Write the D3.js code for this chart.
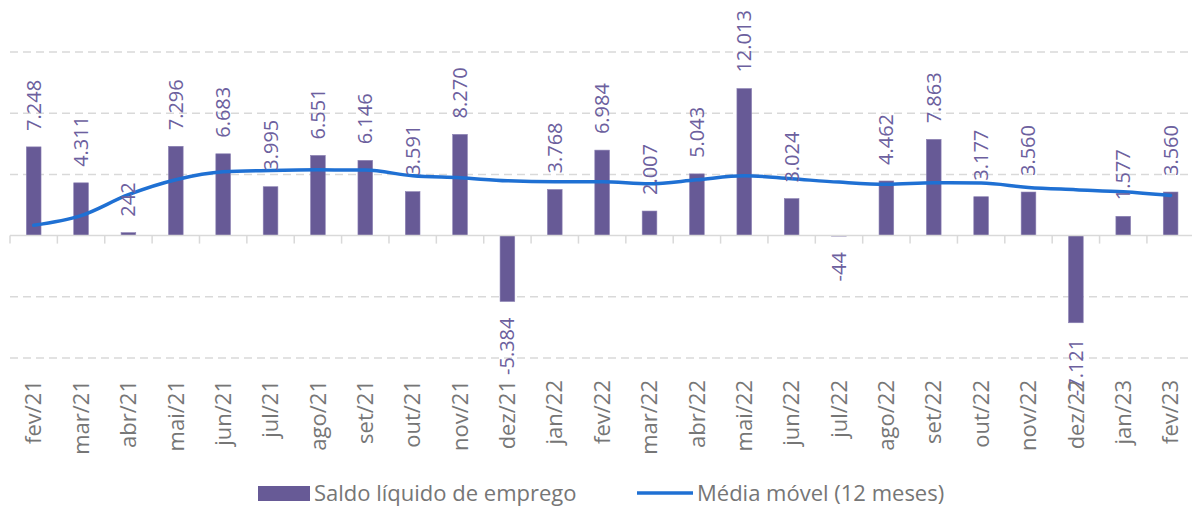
<!DOCTYPE html>
<html>
<head>
<meta charset="utf-8">
<script src="https://cdn.jsdelivr.net/npm/d3@7"></script>
<style>
  body { margin: 0; background: #fff; }
  svg { display: block; font-family: "Segoe UI", "Open Sans", sans-serif; }
</style>
</head>
<body>
<svg width="1192" height="507"></svg>
<script>
let months = ["fev/21", "mar/21", "abr/21", "mai/21", "jun/21", "jul/21", "ago/21", "set/21", "out/21", "nov/21", "dez/21",
  "jan/22", "fev/22", "mar/22", "abr/22", "mai/22", "jun/22", "jul/22", "ago/22", "set/22", "out/22", "nov/22", "dez/22",
  "jan/23", "fev/23"];
let saldo = [7248, 4311, 242, 7296, 6683, 3995, 6551, 6146, 3591, 8270, -5384,
  3768, 6984, 2007, 5043, 12013, 3024, -44, 4462, 7863, 3177, 3560, -7121,
  1577, 3560];
let media = [840, 1630, 3340, 4560, 5210, 5320, 5370, 5350, 4890, 4720, 4480,
  4400, 4400, 4230, 4560, 4890, 4640, 4370, 4200, 4310, 4290, 3930, 3750,
  3580, 3280];
let gridTicks = [-10000, -5000, 5000, 10000, 15000];
let seriesNames = ["Saldo líquido de emprego", "Média móvel (12 meses)"];

let barColor = "#675a96";
let lineColor = "#1f70d3";

let svg = d3.select("svg");

let x = d3.scaleBand()
  .domain(months)
  .range([10, 1194.3])
  .paddingInner(0.69)
  .paddingOuter(0.345);

let y = d3.scaleLinear()
  .domain([-10000, 15000])
  .range([358, 52]);

let fmt = d3.formatLocale({ decimal: ",", thousands: ".", grouping: [3], currency: ["", ""], minus: "-" }).format(",d");

// gridlines
svg.append("g")
  .selectAll("line")
  .data(gridTicks)
  .join("line")
  .attr("x1", 10)
  .attr("x2", 1190)
  .attr("y1", d => y(d))
  .attr("y2", d => y(d))
  .attr("stroke", "#d9d9d9")
  .attr("stroke-width", 1.5)
  .attr("stroke-dasharray", "8,5");

// bars
svg.append("g")
  .selectAll("rect")
  .data(saldo)
  .join("rect")
  .attr("x", (d, i) => x(months[i]))
  .attr("width", x.bandwidth())
  .attr("y", d => y(Math.max(0, d)))
  .attr("height", d => Math.abs(y(d) - y(0)))
  .attr("fill", barColor)
  .attr("stroke", "#8c82b4")
  .attr("stroke-width", 0.6);

// zero axis with ticks between categories
svg.append("line")
  .attr("x1", 10).attr("x2", 1192)
  .attr("y1", y(0)).attr("y2", y(0))
  .attr("stroke", "#d9d9d9")
  .attr("stroke-width", 1.5);

let step = x.step();
svg.append("g")
  .selectAll("line")
  .data(months)
  .join("line")
  .attr("x1", d => x(d) - step * 0.345)
  .attr("x2", d => x(d) - step * 0.345)
  .attr("y1", y(0))
  .attr("y2", y(0) + 8)
  .attr("stroke", "#d9d9d9")
  .attr("stroke-width", 1.5);

// moving average line
let cx = d => x(d) + x.bandwidth() / 2;
let line = d3.line()
  .x((d, i) => cx(months[i]))
  .y(d => y(d))
  .curve(d3.curveMonotoneX);

svg.append("path")
  .datum(media)
  .attr("d", line)
  .attr("fill", "none")
  .attr("stroke", lineColor)
  .attr("stroke-width", 3.5)
  .attr("stroke-linecap", "round");

// data labels
svg.append("g")
  .selectAll("text")
  .data(saldo)
  .join("text")
  .attr("transform", (d, i) => {
    let yy = d >= 0 ? y(d) - 16 : y(d) + 16;
    return "translate(" + cx(months[i]) + "," + yy + ") rotate(-90)";
  })
  .attr("text-anchor", d => d >= 0 ? "start" : "end")
  .attr("dy", "0.35em")
  .attr("font-size", 20)
  .attr("fill", "#6c609e")
  .text(d => fmt(d));

// x axis labels
svg.append("g")
  .selectAll("text")
  .data(months)
  .join("text")
  .attr("transform", d => "translate(" + cx(d) + ",380) rotate(-90)")
  .attr("text-anchor", "end")
  .attr("dy", "0.35em")
  .attr("font-size", 22)
  .attr("fill", "#767676")
  .text(d => d);

// legend
let legend = svg.append("g");
legend.append("rect")
  .attr("x", 258).attr("y", 486)
  .attr("width", 52).attr("height", 15)
  .attr("fill", barColor);
legend.append("text")
  .attr("x", 314).attr("y", 501)
  .attr("font-size", 22)
  .attr("fill", "#767676")
  .text(seriesNames[0]);
legend.append("line")
  .attr("x1", 637).attr("x2", 693)
  .attr("y1", 493).attr("y2", 493)
  .attr("stroke", lineColor)
  .attr("stroke-width", 3.5);
legend.append("text")
  .attr("x", 697).attr("y", 501)
  .attr("font-size", 22)
  .attr("fill", "#767676")
  .text(seriesNames[1]);
</script>
</body>
</html>
